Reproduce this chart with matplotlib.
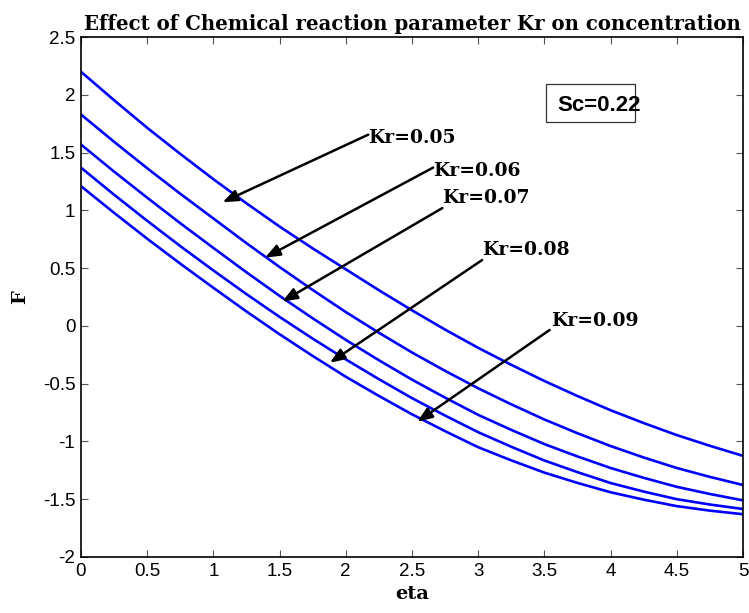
import matplotlib
matplotlib.use("Agg")
import matplotlib.pyplot as plt
from matplotlib.patches import Rectangle

# eta grid and concentration profiles F(eta) for each Kr
eta = [0.0, 0.25, 0.5, 0.75, 1.0, 1.25, 1.5, 1.75, 2.0, 2.25, 2.5,
       2.75, 3.0, 3.25, 3.5, 3.75, 4.0, 4.25, 4.5, 4.75, 5.0]
F_kr005 = [2.20, 1.954, 1.715, 1.489, 1.27, 1.061, 0.86, 0.671, 0.49, 0.309, 0.135,
           -0.032, -0.19, -0.337, -0.477, -0.607, -0.73, -0.841, -0.945, -1.038, -1.125]
F_kr006 = [1.83, 1.594, 1.365, 1.144, 0.93, 0.716, 0.51, 0.311, 0.12, -0.059, -0.23,
           -0.389, -0.54, -0.679, -0.81, -0.929, -1.04, -1.139, -1.23, -1.307, -1.377]
F_kr007 = [1.57, 1.336, 1.11, 0.889, 0.675, 0.464, 0.26, 0.066, -0.121, -0.297, -0.465,
           -0.621, -0.77, -0.90, -1.023, -1.13, -1.23, -1.315, -1.393, -1.455, -1.51]
F_kr008 = [1.37, 1.136, 0.91, 0.691, 0.48, 0.275, 0.078, -0.110, -0.29, -0.461, -0.625,
           -0.776, -0.92, -1.046, -1.165, -1.266, -1.36, -1.434, -1.50, -1.546, -1.585]
F_kr009 = [1.21, 0.979, 0.755, 0.539, 0.33, 0.125, -0.072, -0.26, -0.44, -0.606, -0.765,
           -0.911, -1.05, -1.164, -1.27, -1.359, -1.44, -1.504, -1.56, -1.599, -1.63]
series = [F_kr005, F_kr006, F_kr007, F_kr008, F_kr009]

kr_labels = ["Kr=0.05", "Kr=0.06", "Kr=0.07", "Kr=0.08", "Kr=0.09"]
# text anchor, arrow tail and arrow tip in data units
label_xy = [(2.17, 1.63), (2.66, 1.34), (2.73, 1.11), (3.03, 0.66), (3.55, 0.04)]
arrow_from = [(2.17, 1.655), (2.66, 1.37), (2.73, 1.02), (3.03, 0.57), (3.54, -0.035)]
arrow_tip = [(1.07, 1.07), (1.39, 0.59), (1.52, 0.21), (1.88, -0.32), (2.54, -0.83)]

xticks = [0, 0.5, 1, 1.5, 2, 2.5, 3, 3.5, 4, 4.5, 5]
yticks = [-2, -1.5, -1, -0.5, 0, 0.5, 1, 1.5, 2, 2.5]

serif_bold = dict(family="DejaVu Serif", weight="bold")

fig = plt.figure(figsize=(7.49, 6.13), dpi=100)
ax = fig.add_axes([0.108, 0.0914, 0.884, 0.8482])

for F in series:
    ax.plot(eta, F, color="#0000ff", lw=1.9)

ax.set_xlim(0, 5)
ax.set_ylim(-2, 2.5)
ax.set_xticks(xticks)
ax.set_yticks(yticks)
ax.set_xticklabels([f"{t:g}" for t in xticks], family="Liberation Sans", fontsize=13.5)
ax.set_yticklabels([f"{t:g}" for t in yticks], family="Liberation Sans", fontsize=13.5)
ax.tick_params(direction="in", top=True, right=True, length=5, width=0.8, color="#555555", pad=4)
for s in ax.spines.values():
    s.set_linewidth(1.2)

ax.set_title("Effect of Chemical reaction parameter Kr on concentration",
             fontsize=14.2, pad=5, **serif_bold)
ax.set_xlabel("eta", fontsize=14, labelpad=4, **serif_bold)
ax.set_ylabel("F", fontsize=14, labelpad=10, **serif_bold)

for lab, txy, a0, a1 in zip(kr_labels, label_xy, arrow_from, arrow_tip):
    ax.text(txy[0], txy[1], lab, fontsize=13.5, va="center", ha="left", **serif_bold)
    ax.annotate("", xy=a1, xytext=a0,
                arrowprops=dict(arrowstyle="-|>,head_length=0.9,head_width=0.35",
                                color="black", lw=1.8, shrinkA=0, shrinkB=0))

ax.add_patch(Rectangle((3.51, 1.766), 0.674, 0.33, fill=False, edgecolor="#333333", lw=0.9))
ax.text(3.595, 1.91, "Sc=0.22", fontsize=16, va="center", ha="left",
        family="Liberation Sans", weight="bold")

fig.savefig("out.png", dpi=100)
